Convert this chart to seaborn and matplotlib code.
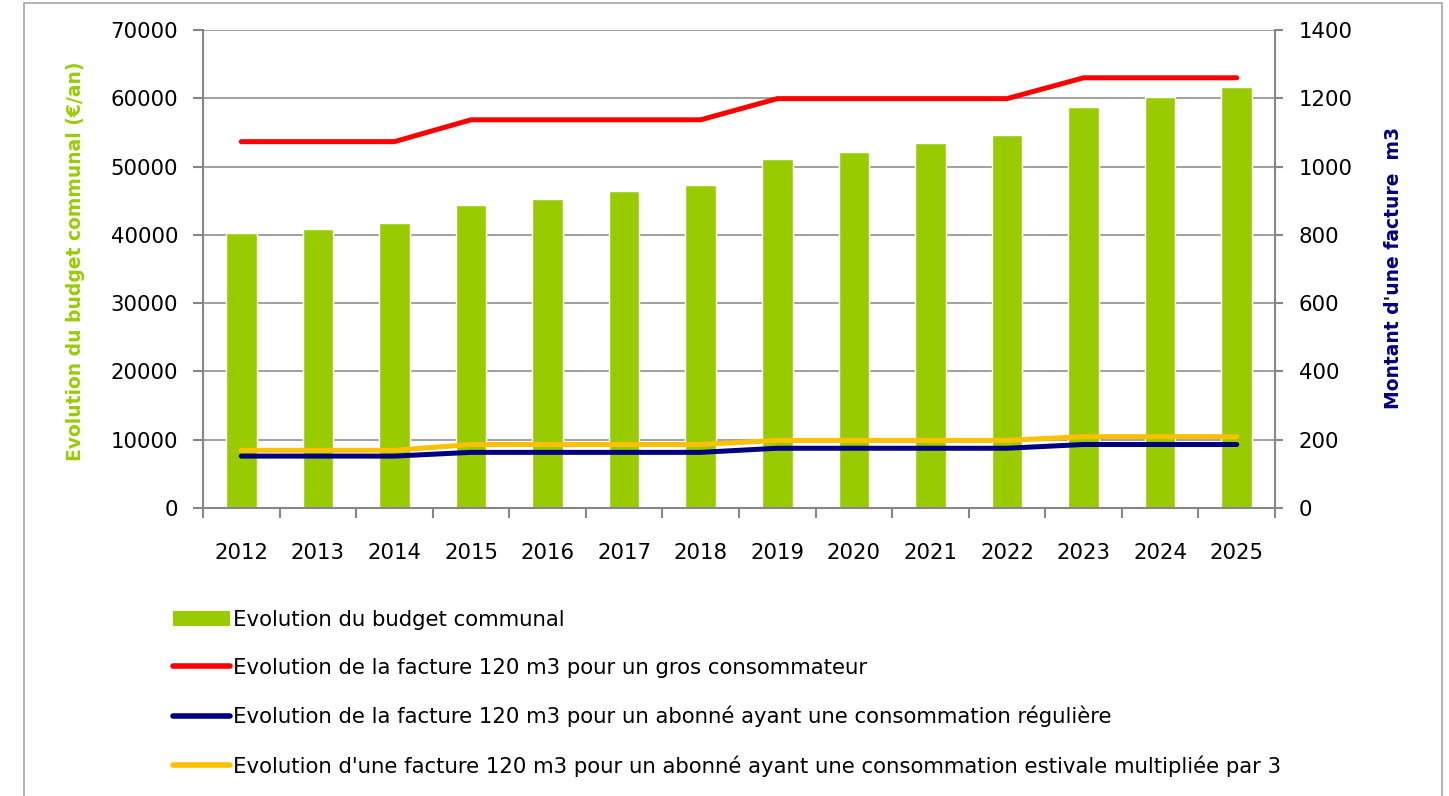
import numpy as np
import pandas as pd
import matplotlib
matplotlib.use('Agg')
import matplotlib.pyplot as plt
import seaborn as sns
from matplotlib.lines import Line2D
from matplotlib.patches import Patch, Rectangle

# data
years = ['2012', '2013', '2014', '2015', '2016', '2017', '2018',
         '2019', '2020', '2021', '2022', '2023', '2024', '2025']
budget = [40300, 40800, 41700, 44300, 45300, 46400, 47300,
          51100, 52200, 53400, 54600, 58700, 60200, 61600]
gros_conso = [1073, 1073, 1073, 1137, 1137, 1137, 1137,
              1199, 1199, 1199, 1199, 1260, 1260, 1260]
reguliere = [152, 152, 152, 163, 163, 163, 163,
             175, 175, 175, 175, 186, 186, 186]
estivale = [169, 169, 169, 186, 186, 186, 186,
            198, 198, 198, 198, 209, 209, 209]

labels = ['Evolution du budget communal',
          'Evolution de la facture 120 m3 pour un gros consommateur',
          'Evolution de la facture 120 m3 pour un abonné ayant une consommation régulière',
          "Evolution d'une facture 120 m3 pour un abonné ayant une consommation estivale multipliée par 3"]

green = '#99CC00'
red = '#FF0000'
navy = '#000080'
yellow = '#FFC000'
grey = '#868686'

sns.set_theme(style='white')
plt.rcParams['font.family'] = ['DejaVu Sans']
plt.rcParams['text.color'] = 'black'
fs = 15.3      # tick / legend text
lfs = 13.5     # axis titles

df = pd.DataFrame({'year': years, 'budget': budget})
lines = pd.DataFrame({'pos': np.arange(len(years)), 'gros': gros_conso,
                      'reg': reguliere, 'est': estivale})

fig = plt.figure(figsize=(14.49, 7.96), dpi=100)
W, H = 1449, 796
ax = fig.add_axes([203 / W, 1 - 508 / H, (1275 - 203) / W, (508 - 30) / H])

sns.barplot(data=df, x='year', y='budget', color=green, width=0.4,
            saturation=1, ax=ax)
ax.set_xlim(-0.5, len(years) - 0.5)
ax.set_ylim(0, 70000)
ax.set_yticks(np.arange(0, 70001, 10000))
ax.grid(axis='y', color=grey, lw=1.1)
ax.set_axisbelow(True)
ax.set_xlabel('')
ax.set_ylabel('Evolution du budget communal (€/an)', color=green,
              fontsize=lfs, fontweight='bold')
ax.yaxis.set_label_coords(-0.1097, 0.516)

ax2 = ax.twinx()
sns.lineplot(data=lines, x='pos', y='est', color=yellow, lw=3.6, ax=ax2,
             solid_capstyle='round')
sns.lineplot(data=lines, x='pos', y='reg', color=navy, lw=3.6, ax=ax2,
             solid_capstyle='round')
sns.lineplot(data=lines, x='pos', y='gros', color=red, lw=3.6, ax=ax2,
             solid_capstyle='round')
ax2.set_ylim(0, 1400)
ax2.set_yticks(np.arange(0, 1401, 200))
ax2.set_xlim(-0.5, len(years) - 0.5)
ax2.set_xlabel('')
ax2.set_ylabel("Montant d'une facture  m3", color=navy, fontsize=lfs,
               fontweight='bold')
ax2.yaxis.set_label_coords(1.1016, 0.503)

for a in (ax, ax2):
    for s in a.spines.values():
        s.set_visible(False)
ax.spines['left'].set_visible(True)
ax.spines['bottom'].set_visible(True)
ax2.spines['right'].set_visible(True)
for s in (ax.spines['left'], ax.spines['bottom'], ax2.spines['right']):
    s.set_color(grey)
    s.set_linewidth(1.5)

ax.set_xticks(np.arange(len(years)))
ax.set_xticklabels(years)
ax.set_xticks(np.arange(-0.5, len(years)), minor=True)
ax.tick_params(axis='x', which='major', length=0, pad=25, labelsize=fs,
               labelcolor='black')
ax.tick_params(axis='x', which='minor', length=7, width=1.5, color=grey,
               bottom=True)
ax.tick_params(axis='y', length=7, width=1.5, color=grey, pad=11,
               labelsize=fs, labelcolor='black', left=True)
ax2.tick_params(axis='y', length=6, width=1.5, color=grey, pad=11,
                labelsize=fs, labelcolor='black', right=True)

handles = [Patch(facecolor=green, edgecolor='none'),
           Line2D([], [], color=red, lw=4, solid_capstyle='round'),
           Line2D([], [], color=navy, lw=4, solid_capstyle='round'),
           Line2D([], [], color=yellow, lw=4, solid_capstyle='round')]
fig.legend(handles, labels, loc='upper left',
           bbox_to_anchor=(164 / W, 1 - 601 / H), frameon=False,
           fontsize=fs, handlelength=2.7, handletextpad=0.15,
           labelspacing=1.32, borderaxespad=0, labelcolor='black')

fig.add_artist(Rectangle((24 / W, -0.1), (1442 - 24) / W, 1.1 - 3 / H,
                         transform=fig.transFigure, fill=False,
                         edgecolor='#a6a6a6', lw=1.2))

fig.savefig('out.png', dpi=100)
